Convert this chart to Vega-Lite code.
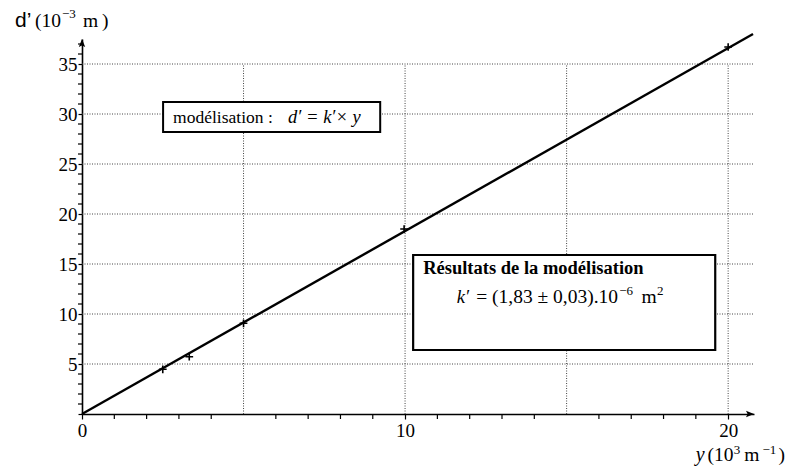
{
  "$schema": "https://vega.github.io/schema/vega-lite/v6.json",
  "autosize": "none",
  "width": 672,
  "height": 375,
  "padding": {"left": 82, "top": 39, "right": 38, "bottom": 56},
  "background": "white",
  "config": {
    "view": {"stroke": null},
    "axis": {
      "labelOverlap": false, "labelBound": false, "labelFlush": false,
      "title": null, "grid": false, "tickColor": "black", "tickWidth": 1.2,
      "domainColor": "black", "domainWidth": 1.6,
      "labelFont": "Liberation Serif", "labelFontSize": 19, "labelColor": "black"
    }
  },
  "datasets": {
    "points": [
      {"y": 2.5, "d": 4.47},
      {"y": 3.32, "d": 5.73},
      {"y": 5.0, "d": 9.07},
      {"y": 9.97, "d": 18.5},
      {"y": 20.0, "d": 36.7}
    ],
    "fit": [
      {"y": 0, "d": 0},
      {"y": 20.77, "d": 38.0}
    ],
    "hgrid": [{"g": 5}, {"g": 10}, {"g": 15}, {"g": 20}, {"g": 25}, {"g": 30}, {"g": 35}],
    "vgrid": [{"g": 5}, {"g": 10}, {"g": 15}, {"g": 20}],
    "xminor": [{"g": 1}, {"g": 2}, {"g": 3}, {"g": 4}, {"g": 6}, {"g": 7}, {"g": 8}, {"g": 9}, {"g": 11}, {"g": 12}, {"g": 13}, {"g": 14}, {"g": 16}, {"g": 17}, {"g": 18}, {"g": 19}],
    "yminor": [{"g": 1}, {"g": 2}, {"g": 3}, {"g": 4}, {"g": 6}, {"g": 7}, {"g": 8}, {"g": 9}, {"g": 11}, {"g": 12}, {"g": 13}, {"g": 14}, {"g": 16}, {"g": 17}, {"g": 18}, {"g": 19}, {"g": 21}, {"g": 22}, {"g": 23}, {"g": 24}, {"g": 26}, {"g": 27}, {"g": 28}, {"g": 29}, {"g": 31}, {"g": 32}, {"g": 33}, {"g": 34}, {"g": 36}, {"g": 37}],
    "serif": [
      {"t": "modélisation :", "x": 2.82, "y": 29.1}
    ],
    "big": [
      {"t": "= (1,83 ± 0,03).10", "x": 12.2, "y": 11.1},
      {"t": "m", "x": 17.32, "y": 11.1},
      {"t": "(10", "x": 19.36, "y": -4.7},
      {"t": "m", "x": 20.5, "y": -4.7},
      {"t": ")", "x": 21.56, "y": -4.7},
      {"t": "(10", "x": -1.455, "y": 38.7},
      {"t": "m", "x": 0.03, "y": 38.7},
      {"t": ")", "x": 0.62, "y": 38.7}
    ],
    "sup": [
      {"t": "−6", "x": 16.63, "y": 11.9},
      {"t": "2", "x": 17.8, "y": 11.9},
      {"t": "3", "x": 20.17, "y": -4.0},
      {"t": "−1", "x": 21.06, "y": -4.0},
      {"t": "−3", "x": -0.62, "y": 39.6}
    ],
    "italic": [
      {"t": "d′ = k′× y", "x": 6.38, "y": 29.1},
      {"t": "k′", "x": 11.6, "y": 11.1}
    ],
    "italicbig": [
      {"t": "y", "x": 19.0, "y": -4.7}
    ],
    "bold": [
      {"t": "Résultats de la modélisation", "x": 10.56, "y": 14.0}
    ],
    "sans": [
      {"t": "d’", "x": -2.07, "y": 38.7}
    ]
  },
  "layer": [
    {
      "data": {"name": "hgrid"},
      "mark": {"type": "rule", "color": "#444", "strokeWidth": 1, "strokeDash": [1, 1.5]},
      "encoding": {
        "y": {"field": "g", "type": "quantitative", "scale": {"domain": [0, 37.5], "nice": false, "zero": true},
          "axis": {"values": [0, 5, 10, 15, 20, 25, 30, 35], "tickCount": 8, "labelExpr": "datum.value > 0 ? datum.label : ''", "tickSize": 4, "labelPadding": 1}},
        "x": {"datum": 0, "type": "quantitative", "scale": {"domain": [0, 20.8], "nice": false},
          "axis": {"values": [0, 5, 10, 15, 20], "tickCount": 4, "tickSize": 5, "labelPadding": 2}},
        "x2": {"datum": 20.8}
      }
    },
    {
      "data": {"name": "vgrid"},
      "mark": {"type": "rule", "color": "#444", "strokeWidth": 1, "strokeDash": [1, 1.5]},
      "encoding": {
        "x": {"field": "g", "type": "quantitative"},
        "y": {"datum": 0, "type": "quantitative"},
        "y2": {"datum": 35}
      }
    },
    {
      "data": {"name": "xminor"},
      "mark": {"type": "rule", "color": "black", "strokeWidth": 1.2, "clip": false},
      "encoding": {
        "x": {"field": "g", "type": "quantitative"},
        "y": {"datum": 0, "type": "quantitative"},
        "y2": {"datum": -0.5}
      }
    },
    {
      "data": {"name": "yminor"},
      "mark": {"type": "rule", "color": "black", "strokeWidth": 1.2, "clip": false},
      "encoding": {
        "y": {"field": "g", "type": "quantitative"},
        "x": {"datum": 0, "type": "quantitative"},
        "x2": {"datum": -0.124}
      }
    },
    {
      "data": {"name": "fit"},
      "mark": {"type": "line", "color": "black", "strokeWidth": 2.4, "clip": false},
      "encoding": {
        "x": {"field": "y", "type": "quantitative"},
        "y": {"field": "d", "type": "quantitative"}
      }
    },
    {
      "data": {"name": "points"},
      "mark": {"type": "point", "shape": "M-1,0L1,0M0,-1L0,1", "size": 60, "color": "black", "strokeWidth": 1.6, "filled": false, "opacity": 1},
      "encoding": {
        "x": {"field": "y", "type": "quantitative"},
        "y": {"field": "d", "type": "quantitative"}
      }
    },
    {
      "data": {"values": [{}]},
      "mark": {"type": "rect", "fill": "white", "stroke": "black", "strokeWidth": 2},
      "encoding": {
        "x": {"datum": 2.51, "type": "quantitative"},
        "x2": {"datum": 9.23},
        "y": {"datum": 28.2, "type": "quantitative"},
        "y2": {"datum": 31.2}
      }
    },
    {
      "data": {"values": [{}]},
      "mark": {"type": "rect", "fill": "white", "stroke": "black", "strokeWidth": 2.2},
      "encoding": {
        "x": {"datum": 10.25, "type": "quantitative"},
        "x2": {"datum": 19.6},
        "y": {"datum": 6.4, "type": "quantitative"},
        "y2": {"datum": 15.9}
      }
    },
    {
      "data": {"name": "serif"},
      "mark": {"type": "text", "align": "left", "baseline": "alphabetic", "fontSize": 17.5, "color": "black", "font": "Liberation Serif"},
      "encoding": {
        "x": {"field": "x", "type": "quantitative"},
        "y": {"field": "y", "type": "quantitative"},
        "text": {"field": "t"}
      }
    },
    {
      "data": {"name": "big"},
      "mark": {"type": "text", "align": "left", "baseline": "alphabetic", "fontSize": 19.5, "color": "black", "font": "Liberation Serif"},
      "encoding": {
        "x": {"field": "x", "type": "quantitative"},
        "y": {"field": "y", "type": "quantitative"},
        "text": {"field": "t"}
      }
    },
    {
      "data": {"name": "sup"},
      "mark": {"type": "text", "align": "left", "baseline": "alphabetic", "fontSize": 13, "color": "black", "font": "Liberation Serif"},
      "encoding": {
        "x": {"field": "x", "type": "quantitative"},
        "y": {"field": "y", "type": "quantitative"},
        "text": {"field": "t"}
      }
    },
    {
      "data": {"name": "italic"},
      "mark": {"type": "text", "align": "left", "baseline": "alphabetic", "fontSize": 18.5, "color": "black", "font": "Liberation Serif", "fontStyle": "italic"},
      "encoding": {
        "x": {"field": "x", "type": "quantitative"},
        "y": {"field": "y", "type": "quantitative"},
        "text": {"field": "t"}
      }
    },
    {
      "data": {"name": "italicbig"},
      "mark": {"type": "text", "align": "left", "baseline": "alphabetic", "fontSize": 20, "color": "black", "font": "Liberation Serif", "fontStyle": "italic"},
      "encoding": {
        "x": {"field": "x", "type": "quantitative"},
        "y": {"field": "y", "type": "quantitative"},
        "text": {"field": "t"}
      }
    },
    {
      "data": {"name": "bold"},
      "mark": {"type": "text", "align": "left", "baseline": "alphabetic", "fontSize": 18.5, "color": "black", "font": "Liberation Serif", "fontWeight": "bold"},
      "encoding": {
        "x": {"field": "x", "type": "quantitative"},
        "y": {"field": "y", "type": "quantitative"},
        "text": {"field": "t"}
      }
    },
    {
      "data": {"name": "sans"},
      "mark": {"type": "text", "align": "left", "baseline": "alphabetic", "fontSize": 21, "color": "black", "font": "Liberation Sans"},
      "encoding": {
        "x": {"field": "x", "type": "quantitative"},
        "y": {"field": "y", "type": "quantitative"},
        "text": {"field": "t"}
      }
    },
    {
      "data": {"values": [{}]},
      "mark": {"type": "point", "shape": "M0,0L-2,-0.8L-1.6,0L-2,0.8Z", "size": 64, "filled": true, "color": "black", "opacity": 1},
      "encoding": {
        "x": {"datum": 20.8, "type": "quantitative"},
        "y": {"datum": 0, "type": "quantitative"}
      }
    },
    {
      "data": {"values": [{}]},
      "mark": {"type": "point", "shape": "M0,0L-0.8,2L0,1.6L0.8,2Z", "size": 64, "filled": true, "color": "black", "opacity": 1},
      "encoding": {
        "x": {"datum": 0, "type": "quantitative"},
        "y": {"datum": 37.5, "type": "quantitative"}
      }
    }
  ]
}
